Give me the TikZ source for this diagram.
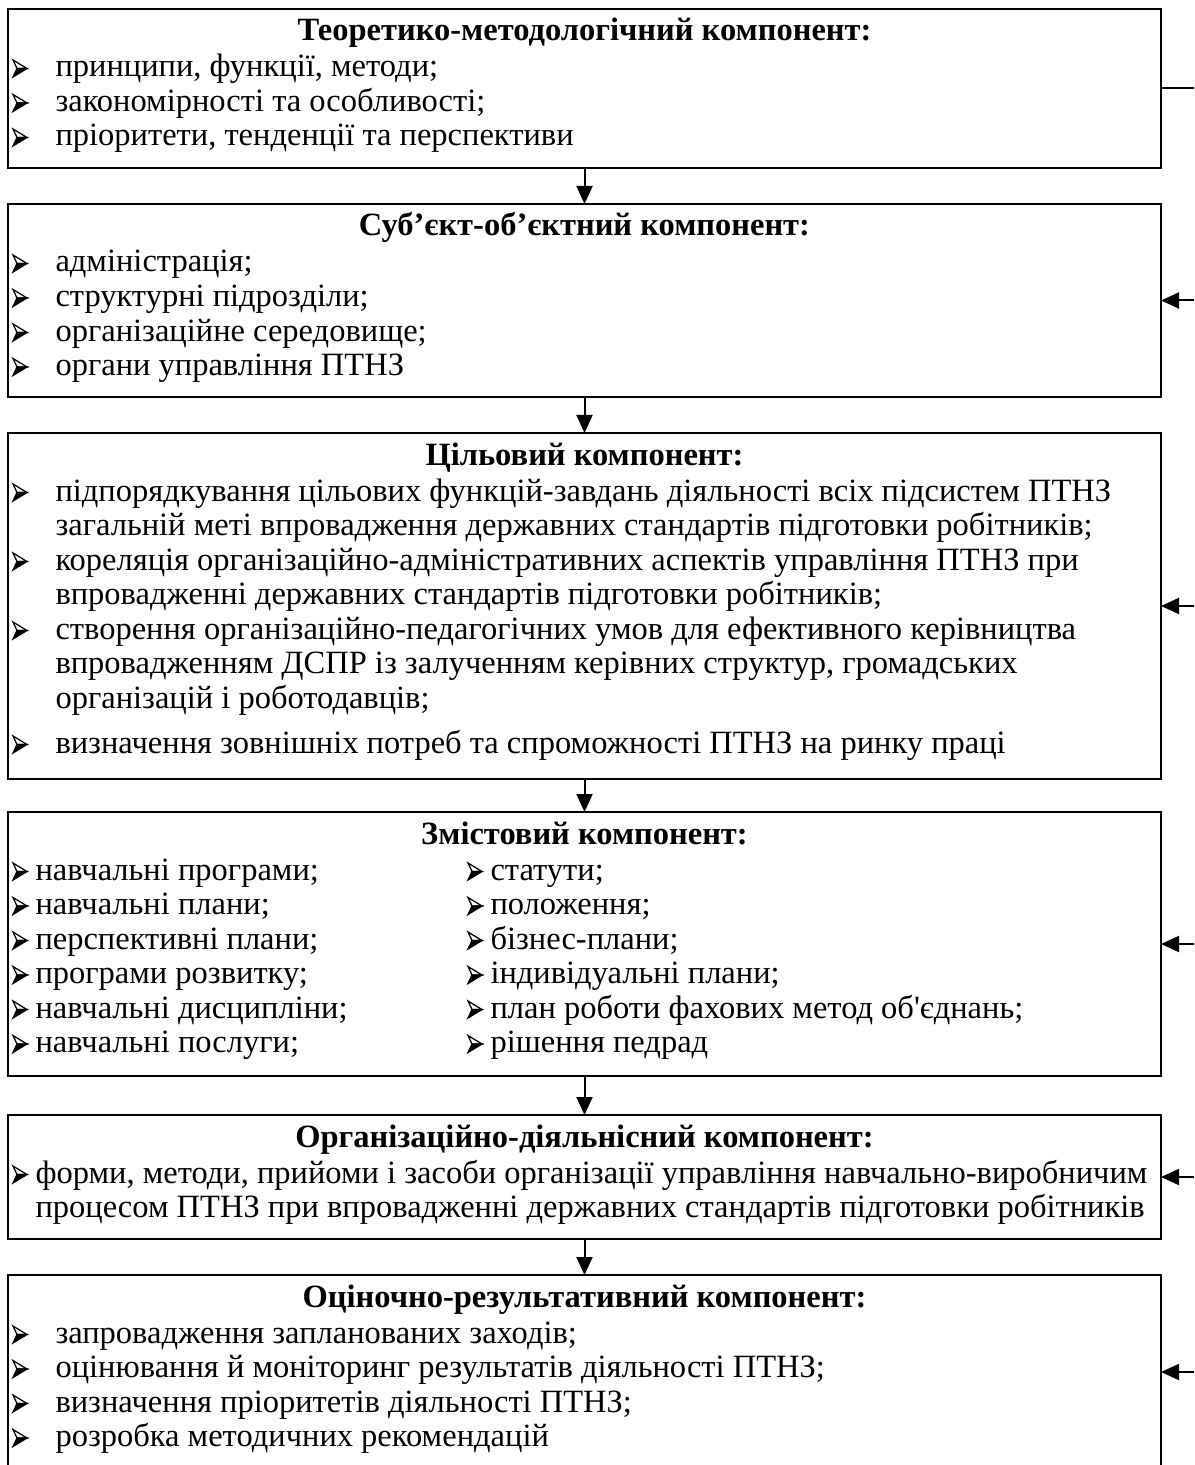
\documentclass[tikz,border=0pt]{standalone}
\usepackage{fontspec}
\setmainfont{Liberation Serif}
\usetikzlibrary{arrows.meta}
\tikzset{
	boxstyle/.style={rectangle,draw=black,line width=0.9pt,inner sep=0,outer sep=0,minimum width=461.2pt},
	headstyle/.style={anchor=base,inner sep=0,font=\bfseries,text height=9pt,text depth=3pt},
	itemstyle/.style={anchor=base west,inner sep=0,text height=9pt,text depth=3pt},
	arrowstyle/.style={-{Triangle[width=6.4pt,length=7.2pt]},line width=0.8pt},
	linkstyle/.style={line width=0.8pt},
	arrowbullet/.pic={
		\filldraw[fill=white,line width=0.5pt,line join=miter] (0,-17)--(14,-8.5)--(4,-8.5)--cycle;
		\filldraw[line width=0.5pt,line join=miter] (4,-8.5)--(14,-8.5)--(0,0)--cycle;
	}
}

\begin{document}
\begin{tikzpicture}[x=0.4pt,y=-0.4pt]
	\fontsize{13}{15}\selectfont
	\clip (0,0) rectangle (1194,1465);
	\node[boxstyle,minimum height=63.6pt] (b1) at (584.5,88.5) {};
	\node[boxstyle,minimum height=77.2pt] (b2) at (584.5,300.5) {};
	\node[boxstyle,minimum height=138.4pt] (b3) at (584.5,606) {};
	\node[boxstyle,minimum height=105.6pt] (b4) at (584.5,944) {};
	\node[boxstyle,minimum height=49.6pt] (b5) at (584.5,1177) {};
	\node[boxstyle,minimum height=77.6pt] (b6) at (584.5,1372) {};
	\coordinate (r1) at (1194,88.5);
	\coordinate (r2) at (1194,300.5);
	\coordinate (r3) at (1194,606);
	\coordinate (r4) at (1194,944);
	\coordinate (r5) at (1194,1177);
	\coordinate (r6) at (1194,1372);
	% first box
	\node[headstyle] (h1) at (584.5,41) {Теоретико-методологічний компонент:};
	\pic at (13,77) {arrowbullet};
	\node[itemstyle] (t11) at (55,77) {принципи, функції, методи;};
	\pic at (13,111.5) {arrowbullet};
	\node[itemstyle] (t12) at (55,111.5) {закономірності та особливості;};
	\pic at (13,146) {arrowbullet};
	\node[itemstyle] (t13) at (55,146) {пріоритети, тенденції та перспективи};
	% second box
	\node[headstyle] (h2) at (584.5,236) {Суб’єкт-об’єктний компонент:};
	\pic at (13,272) {arrowbullet};
	\node[itemstyle] (t21) at (55,272) {адміністрація;};
	\pic at (13,306.5) {arrowbullet};
	\node[itemstyle] (t22) at (55,306.5) {структурні підрозділи;};
	\pic at (13,341) {arrowbullet};
	\node[itemstyle] (t23) at (55,341) {організаційне середовище;};
	\pic at (13,375.5) {arrowbullet};
	\node[itemstyle] (t24) at (55,375.5) {органи управління ПТНЗ};
	% third box
	\node[headstyle] (h3) at (584.5,465) {Цільовий компонент:};
	\pic at (13,501) {arrowbullet};
	\node[itemstyle] (t31) at (55,501) {підпорядкування цільових функцій-завдань діяльності всіх підсистем ПТНЗ};
	\node[itemstyle] (t32) at (55,535.5) {загальній меті впровадження державних стандартів підготовки робітників;};
	\pic at (13,570) {arrowbullet};
	\node[itemstyle] (t33) at (55,570) {кореляція організаційно-адміністративних аспектів управління ПТНЗ при};
	\node[itemstyle] (t34) at (55,604.5) {впровадженні державних стандартів підготовки робітників;};
	\pic at (13,639) {arrowbullet};
	\node[itemstyle] (t35) at (55,639) {створення організаційно-педагогічних умов для ефективного керівництва};
	\node[itemstyle] (t36) at (55,673.5) {впровадженням ДСПР із залученням керівних структур, громадських};
	\node[itemstyle] (t37) at (55,708) {організацій і роботодавців;};
	\pic at (13,753) {arrowbullet};
	\node[itemstyle] (t38) at (55,753) {визначення зовнішніх потреб та спроможності ПТНЗ на ринку праці};
	% fourth box
	\node[headstyle] (h4) at (584.5,844) {Змістовий компонент:};
	\pic at (13,880) {arrowbullet};
	\node[itemstyle] (t41) at (35,880) {навчальні програми;};
	\pic at (13,914.5) {arrowbullet};
	\node[itemstyle] (t42) at (35,914.5) {навчальні плани;};
	\pic at (13,949) {arrowbullet};
	\node[itemstyle] (t43) at (35,949) {перспективні плани;};
	\pic at (13,983.5) {arrowbullet};
	\node[itemstyle] (t44) at (35,983.5) {програми розвитку;};
	\pic at (13,1018) {arrowbullet};
	\node[itemstyle] (t45) at (35,1018) {навчальні дисципліни;};
	\pic at (13,1052.5) {arrowbullet};
	\node[itemstyle] (t46) at (35,1052.5) {навчальні послуги;};
	\pic at (468,880) {arrowbullet};
	\node[itemstyle] (s41) at (490,880) {статути;};
	\pic at (468,914.5) {arrowbullet};
	\node[itemstyle] (s42) at (490,914.5) {положення;};
	\pic at (468,949) {arrowbullet};
	\node[itemstyle] (s43) at (490,949) {бізнес-плани;};
	\pic at (468,983.5) {arrowbullet};
	\node[itemstyle] (s44) at (490,983.5) {індивідуальні плани;};
	\pic at (468,1018) {arrowbullet};
	\node[itemstyle] (s45) at (490,1018) {план роботи фахових метод об\textquotesingle єднань;};
	\pic at (468,1052.5) {arrowbullet};
	\node[itemstyle] (s46) at (490,1052.5) {рішення педрад};
	% fifth box
	\node[headstyle] (h5) at (584.5,1147) {Організаційно-діяльнісний компонент:};
	\pic at (13,1183) {arrowbullet};
	\node[itemstyle] (t51) at (35,1183) {форми, методи, прийоми і засоби організації управління навчально-виробничим};
	\node[itemstyle] (t52) at (35,1217.5) {процесом ПТНЗ при впровадженні державних стандартів підготовки робітників};
	% sixth box
	\node[headstyle] (h6) at (584.5,1307) {Оціночно-результативний компонент:};
	\pic at (13,1343) {arrowbullet};
	\node[itemstyle] (t61) at (55,1343) {запровадження запланованих заходів;};
	\pic at (13,1377.5) {arrowbullet};
	\node[itemstyle] (t62) at (55,1377.5) {оцінювання й моніторинг результатів діяльності ПТНЗ;};
	\pic at (13,1412) {arrowbullet};
	\node[itemstyle] (t63) at (55,1412) {визначення пріоритетів діяльності ПТНЗ;};
	\pic at (13,1446.5) {arrowbullet};
	\node[itemstyle] (t64) at (55,1446.5) {розробка методичних рекомендацій};
	% arrows
	\draw[arrowstyle] (b1.south) -- (b2.north);
	\draw[arrowstyle] (b2.south) -- (b3.north);
	\draw[arrowstyle] (b3.south) -- (b4.north);
	\draw[arrowstyle] (b4.south) -- (b5.north);
	\draw[arrowstyle] (b5.south) -- (b6.north);
	\draw[linkstyle] (b1.east) -- (r1);
	\draw[arrowstyle] (r2) -- (b2.east);
	\draw[arrowstyle] (r3) -- (b3.east);
	\draw[arrowstyle] (r4) -- (b4.east);
	\draw[arrowstyle] (r5) -- (b5.east);
	\draw[arrowstyle] (r6) -- (b6.east);
\end{tikzpicture}
\end{document}
